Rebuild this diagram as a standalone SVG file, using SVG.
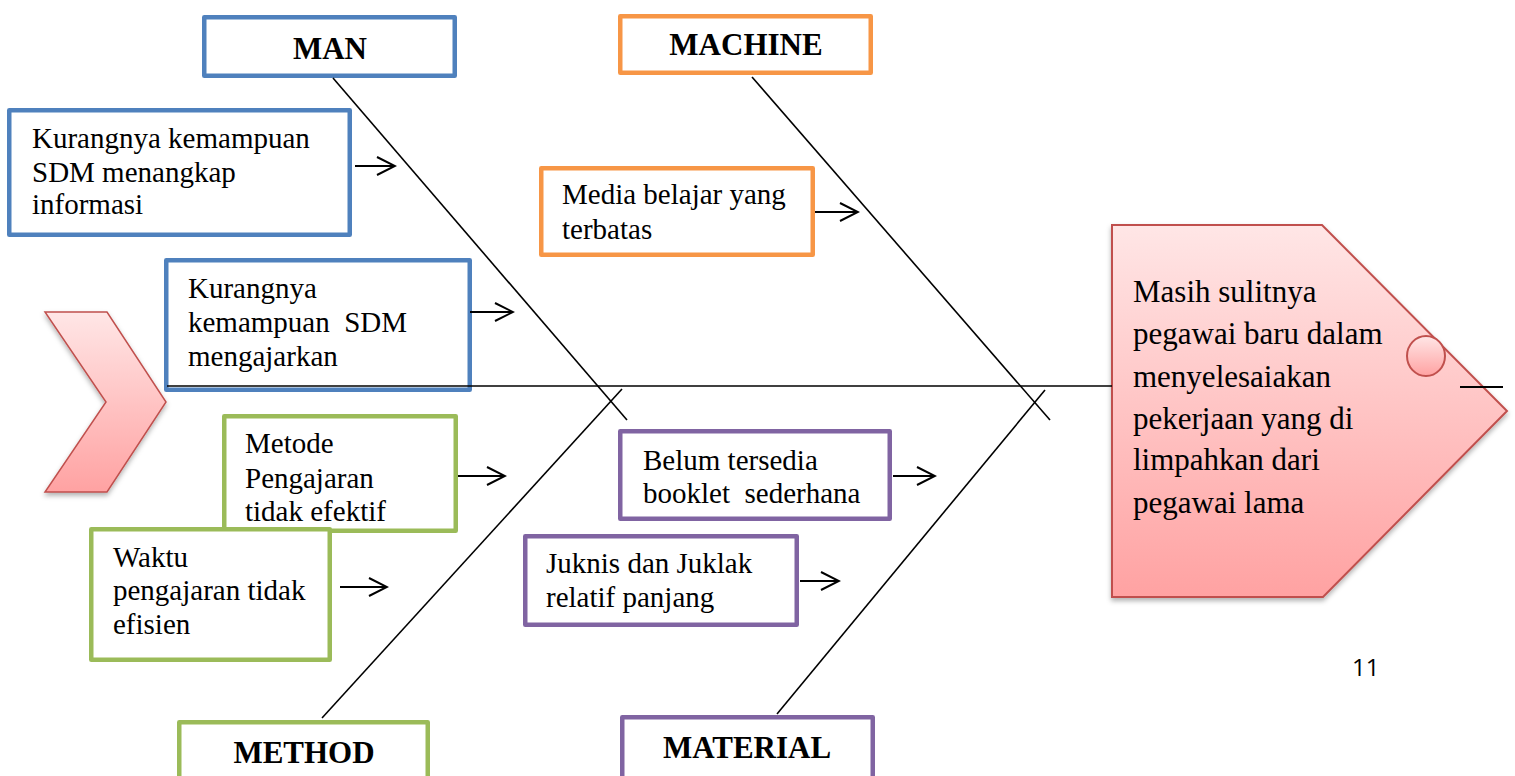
<svg xmlns="http://www.w3.org/2000/svg" width="1515" height="776" viewBox="0 0 1515 776">
<style>
.box{fill:#fff;stroke-width:4.5;stroke-linejoin:round}
.blue{stroke:#4F81BD}.orange{stroke:#F79646}.green{stroke:#9BBB59}.purple{stroke:#8064A2}
.t{font-family:"Liberation Serif","Times New Roman",serif;font-size:29px;fill:#000}
.h{font-family:"Liberation Serif","Times New Roman",serif;font-size:31px;font-weight:bold;fill:#000;text-anchor:middle}
.eff{font-family:"Liberation Serif","Times New Roman",serif;font-size:31px;fill:#000}
.bone{stroke:#000;stroke-width:1.6;fill:none}
.arr{stroke:#000;stroke-width:2;fill:none;marker-end:url(#ah)}
</style>
<defs>
<marker id="ah" viewBox="0 0 22 20" refX="20" refY="10" markerWidth="22" markerHeight="20" markerUnits="userSpaceOnUse" orient="auto">
<path d="M2,1 L20,10 L2,19" fill="none" stroke="#000" stroke-width="2"/>
</marker>
<linearGradient id="pink" x1="0" y1="0" x2="0" y2="1">
<stop offset="0" stop-color="#FFE6E6"/>
<stop offset="1" stop-color="#FFA2A2"/>
</linearGradient>
<filter id="sh" x="-10%" y="-10%" width="130%" height="130%">
<feDropShadow dx="0" dy="3" stdDeviation="2.5" flood-color="#000" flood-opacity="0.3"/>
</filter>
</defs>

<g id="tail">
<polygon points="45,312 107,312 166,402 107,492 45,492 106,402" fill="url(#pink)" stroke="#C0504D" stroke-width="1.5" filter="url(#sh)"/>
</g>

<g id="effect">
<polygon points="1112,225 1322,225 1507,411 1323,597 1112,597" fill="url(#pink)" stroke="#C0504D" stroke-width="2" filter="url(#sh)"/>
<ellipse cx="1426" cy="356" rx="19" ry="20" fill="url(#pink)" stroke="#C0504D" stroke-width="2"/>
<line x1="1460" y1="387" x2="1503" y2="387" stroke="#000" stroke-width="2"/>
<text class="eff" x="1133" y="302">Masih sulitnya</text>
<text class="eff" x="1133" y="344">pegawai baru dalam</text>
<text class="eff" x="1133" y="387">menyelesaiakan</text>
<text class="eff" x="1133" y="429">pekerjaan yang di</text>
<text class="eff" x="1133" y="470">limpahkan dari</text>
<text class="eff" x="1133" y="513">pegawai lama</text>
</g>

<g id="man">
<rect class="box blue" x="204.25" y="17.25" width="250.5" height="58.5"/>
<text class="h" x="330" y="59">MAN</text>
</g>

<g id="machine">
<rect class="box orange" x="620.25" y="16.25" width="250.5" height="56.5"/>
<text class="h" x="746" y="55">MACHINE</text>
</g>

<g id="method">
<rect class="box green" x="179.25" y="722.25" width="248.5" height="70"/>
<text class="h" x="304" y="763">METHOD</text>
</g>

<g id="material">
<rect class="box purple" x="622.25" y="717.25" width="250.5" height="70"/>
<text class="h" x="747" y="758">MATERIAL</text>
</g>

<g id="cause-man-1">
<rect class="box blue" x="9.25" y="110.25" width="340.5" height="124.5"/>
<text class="t" x="32" y="148">Kurangnya kemampuan</text>
<text class="t" x="32" y="182">SDM menangkap</text>
<text class="t" x="32" y="214">informasi</text>
</g>

<g id="cause-man-2">
<rect class="box blue" x="166.25" y="260.25" width="303.5" height="129.5"/>
<text class="t" x="188" y="298">Kurangnya</text>
<text class="t" x="188" y="332" xml:space="preserve">kemampuan  SDM</text>
<text class="t" x="188" y="366">mengajarkan</text>
</g>

<g id="cause-machine-1">
<rect class="box orange" x="541.25" y="168.25" width="271.5" height="86.5"/>
<text class="t" x="562" y="204">Media belajar yang</text>
<text class="t" x="562" y="239">terbatas</text>
</g>

<g id="cause-method-1">
<rect class="box green" x="224.25" y="416.25" width="231.5" height="114.5"/>
<text class="t" x="245" y="453">Metode</text>
<text class="t" x="245" y="488">Pengajaran</text>
<text class="t" x="245" y="521">tidak efektif</text>
</g>

<g id="cause-method-2">
<rect class="box green" x="91.25" y="529.25" width="238.5" height="130.5"/>
<text class="t" x="113" y="567">Waktu</text>
<text class="t" x="113" y="600">pengajaran tidak</text>
<text class="t" x="113" y="634">efisien</text>
</g>

<g id="cause-material-1">
<rect class="box purple" x="620.25" y="431.25" width="269.5" height="87.5"/>
<text class="t" x="643" y="470">Belum tersedia</text>
<text class="t" x="643" y="503" xml:space="preserve">booklet  sederhana</text>
</g>

<g id="cause-material-2">
<rect class="box purple" x="525.25" y="536.25" width="271.5" height="88.5"/>
<text class="t" x="546" y="573">Juknis dan Juklak</text>
<text class="t" x="546" y="607">relatif panjang</text>
</g>

<g id="connectors">
<line class="bone" x1="167" y1="386" x2="1112" y2="386"/>
<line class="bone" x1="333" y1="78" x2="627" y2="420"/>
<line class="bone" x1="752" y1="77" x2="1050" y2="420"/>
<line class="bone" x1="322" y1="718" x2="622" y2="389"/>
<line class="bone" x1="777" y1="714" x2="1045" y2="390"/>
<line class="arr" x1="355" y1="166" x2="395" y2="166"/>
<line class="arr" x1="470" y1="312" x2="513" y2="312"/>
<line class="arr" x1="815" y1="212" x2="858" y2="212"/>
<line class="arr" x1="458" y1="476" x2="505" y2="476"/>
<line class="arr" x1="340" y1="587" x2="387" y2="587"/>
<line class="arr" x1="893" y1="476" x2="935" y2="476"/>
<line class="arr" x1="800" y1="581" x2="839" y2="581"/>
</g>

<text x="1352" y="676" font-family="'Open Sans', 'Liberation Sans', sans-serif" font-size="24" fill="#000">11</text>
</svg>
